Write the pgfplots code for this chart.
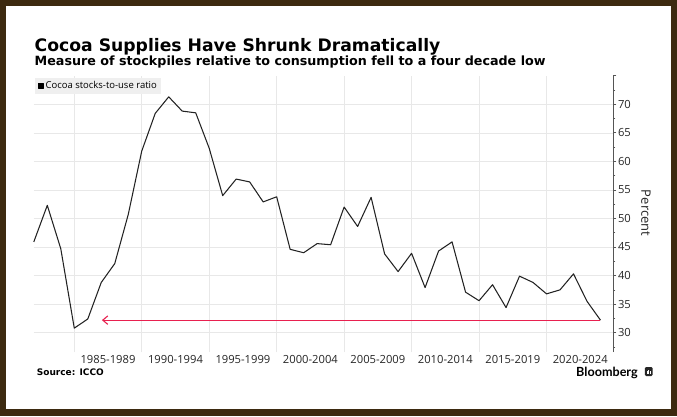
\documentclass[border=0pt]{standalone}
\usepackage{pgfplots}
\pgfplotsset{compat=1.18}
\usepackage{fontspec}
\usetikzlibrary{arrows.meta}
\setmainfont{Open Sans}
\newfontfamily\vfont{DejaVu Sans}
\newfontfamily\bbfont{Lato}
\definecolor{frame}{HTML}{3D2A10}
\definecolor{gridc}{HTML}{E8E8E8}
\definecolor{legbg}{HTML}{EFEFEF}
\definecolor{arrowred}{HTML}{E8204F}
\definecolor{linec}{HTML}{222222}
\definecolor{axc}{HTML}{555555}
\begin{document}
\begin{tikzpicture}[x=1pt,y=1pt]
\fill[frame] (0,0) rectangle (677,416);
\fill[white] (5.6,7) rectangle (671.4,410);
\begin{axis}[
  at={(33.8pt,64pt)}, anchor=south west,
  scale only axis, width=579.5pt, height=276.3pt,
  xmin=1982, xmax=2024.95, ymin=26.62, ymax=75,
  axis y line*=right, axis x line*=bottom,
  x axis line style={draw=none},
  y axis line style={draw=axc, line width=0.8pt},
  xtick={1985,1990,...,2020}, xticklabels={},
  xmajorgrids, ymajorgrids,
  grid style={draw=gridc, line width=0.6pt},
  major x tick style={draw=none},
  extra x ticks={1987.5,1992.5,...,2022.5},
  extra x tick labels={1985-1989,1990-1994,1995-1999,2000-2004,2005-2009,2010-2014,2015-2019,2020-2024},
  extra x tick style={grid=none, major tick length=0pt, tick style={draw=none}},
  xticklabel style={anchor=north, inner sep=0pt, yshift=-3pt},
  ytick={30,35,...,70},
  extra y ticks={75}, extra y tick labels={},
  extra y tick style={grid=none},
  minor ytick={27.5,32.5,...,72.5},
  tick align=outside,
  major tick length=3pt, minor tick length=2pt,
  y tick style={draw=axc, line width=0.7pt},
  yticklabel style={anchor=west, inner sep=0pt, xshift=1.5pt},
  ticklabel style={font=\fontsize{11.2}{13}\selectfont, text=black!85},
  /pgf/number format/assume math mode=true,
  legend style={at={(rel axis cs:0,1)}, anchor=north west, xshift=1pt, yshift=-2.3pt,
    fill=legbg, draw=none, font=\fontsize{9.5}{11}\selectfont, inner xsep=2.5pt, inner ysep=1.3pt},
  legend cell align=left,
  legend image code/.code={\fill[black] (0.5pt,-2.6pt) rectangle (5.5pt,2.6pt);},
  clip=false,
]
\addplot[draw=linec, line width=1.05pt, line join=round] coordinates {
(1982,45.9) (1983,52.3) (1984,44.7) (1985,30.8) (1986,32.4) (1987,38.8)
(1988,42.1) (1989,50.7) (1990,61.8) (1991,68.4) (1992,71.3) (1993,68.8)
(1994,68.5) (1995,62.3) (1996,54.0) (1997,56.9) (1998,56.4) (1999,52.9)
(2000,53.8) (2001,44.6) (2002,44.0) (2003,45.6) (2004,45.4) (2005,52.0)
(2006,48.6) (2007,53.7) (2008,43.8) (2009,40.7) (2010,43.9) (2011,37.9)
(2012,44.3) (2013,45.9) (2014,37.1) (2015,35.6) (2016,38.4) (2017,34.4)
(2018,39.9) (2019,38.8) (2020,36.8) (2021,37.5) (2022,40.3) (2023,35.5)
(2024,32.2)};
\addlegendentry{Cocoa stocks-to-use ratio}
\addplot[forget plot, draw=arrowred, line width=1.1pt, -{Straight Barb[length=5pt,width=8.5pt]}] coordinates {(2024,32.2) (1987.05,32.2)};
\end{axis}
\node[anchor=base west, inner sep=0pt, font=\vfont\bfseries\fontsize{17.2}{20}\selectfont] at (34.5,{416-51.3}) {Cocoa Supplies Have Shrunk Dramatically};
\node[anchor=base west, inner sep=0pt, font=\vfont\bfseries\fontsize{12.7}{15}\selectfont] at (34.5,{416-65.9}) {Measure of stockpiles relative to consumption fell to a four decade low};
\node[anchor=base west, inner sep=0pt, font=\vfont\bfseries\fontsize{9}{11}\selectfont] at (36.7,{416-375.7}) {Source: ICCO};
\node[anchor=base west, inner sep=0pt, font=\bbfont\bfseries\fontsize{12.6}{15}\selectfont] at (576,{416-376}) {Bloomberg};
\node[rotate=-90, inner sep=0pt, font=\fontsize{13}{15}\selectfont, text=black!85] at (646,{416-213}) {Percent};
\fill[black!85, rounded corners=1.2pt] (644.8,{416-376}) rectangle (652.5,{416-367});
\fill[white] (646.6,{416-373.5}) rectangle (647.4,{416-371});
\fill[white] (648.2,{416-373.5}) rectangle (649.0,{416-369.5});
\fill[white] (649.8,{416-373.5}) rectangle (650.6,{416-370.5});
\pgfresetboundingbox
\useasboundingbox (0,0) rectangle (677,416);
\end{tikzpicture}
\end{document}
